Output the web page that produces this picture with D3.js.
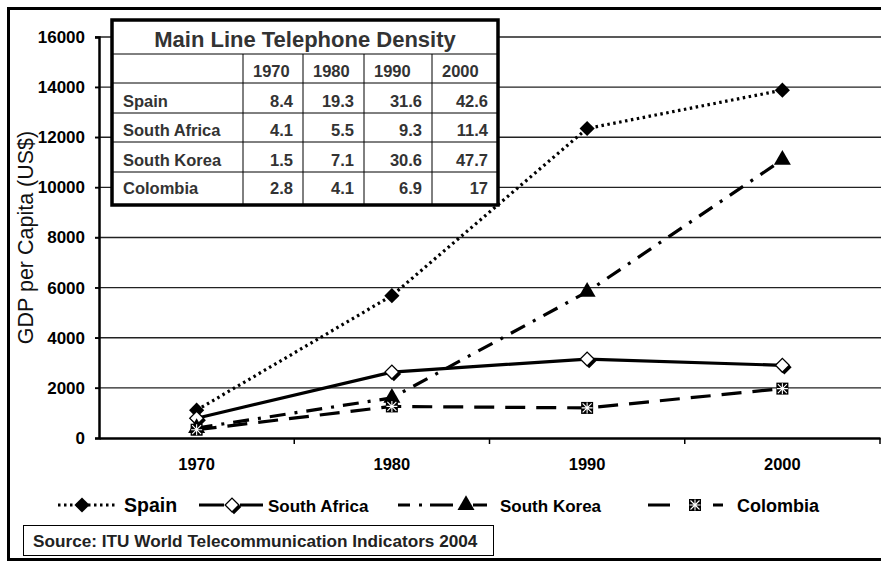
<!DOCTYPE html>
<html>
<head>
<meta charset="utf-8">
<script src="https://cdn.jsdelivr.net/npm/d3@7"></script>
<style>
  body { margin: 0; background: #fff; }
  svg { display: block; font-family: "Liberation Sans", Arial, sans-serif; }
</style>
</head>
<body>
<div id="chart"></div>
<script>
// chart values
var years = ["1970", "1980", "1990", "2000"];
var yTicks = [0, 2000, 4000, 6000, 8000, 10000, 12000, 14000, 16000];
var seriesNames = ["Spain", "South Africa", "South Korea", "Colombia"];
var spainGdp = [1110, 5680, 12350, 13880];
var southAfricaGdp = [790, 2630, 3150, 2900];
var southKoreaGdp = [400, 1600, 5830, 11100];
var colombiaGdp = [330, 1260, 1200, 1970];

// telephone density table
var densityTitle = "Main Line Telephone Density";
var densitySpain = ["8.4", "19.3", "31.6", "42.6"];
var densitySouthAfrica = ["4.1", "5.5", "9.3", "11.4"];
var densitySouthKorea = ["1.5", "7.1", "30.6", "47.7"];
var densityColombia = ["2.8", "4.1", "6.9", "17"];
var sourceText = "Source: ITU World Telecommunication Indicators 2004";

var W = 881, H = 566;
var margin = {top: 37, left: 99, right: 1, bottom: 128};

var svg = d3.select("#chart").append("svg")
  .attr("width", W).attr("height", H);

// outer frame
svg.append("rect")
  .attr("x", 8.5).attr("y", 8.5)
  .attr("width", 880).attr("height", 551)
  .attr("fill", "#fff").attr("stroke", "#000").attr("stroke-width", 3);

var x = d3.scaleBand().domain(years).range([margin.left, W - margin.right]);
var y = d3.scaleLinear().domain([0, 16000]).range([H - margin.bottom, margin.top]);

// gridlines
svg.append("g")
  .selectAll("line").data(yTicks.filter(function(d) { return d > 0; }))
  .join("line")
  .attr("x1", margin.left - 4).attr("x2", W)
  .attr("y1", function(d) { return y(d); }).attr("y2", function(d) { return y(d); })
  .attr("stroke", "#222").attr("stroke-width", 1.4);

// y axis
var yAxis = svg.append("g")
  .attr("transform", "translate(" + margin.left + ",0)")
  .call(d3.axisLeft(y).tickValues(yTicks).tickSize(4).tickPadding(10).tickFormat(d3.format("d")));
yAxis.select(".domain").attr("stroke-width", 2.5);
yAxis.selectAll(".tick line").attr("stroke-width", 1.5);
yAxis.selectAll("text").attr("font-size", 17).attr("font-weight", "bold").attr("fill", "#000")
  .attr("font-family", "Liberation Sans, Arial, sans-serif");

// x axis
var xAxis = svg.append("g")
  .attr("transform", "translate(0," + y(0) + ")")
  .call(d3.axisBottom(x).tickSize(0).tickPadding(20));
xAxis.select(".domain").attr("stroke-width", 2.5);
xAxis.selectAll("text").attr("font-size", 16.5).attr("font-weight", "bold").attr("fill", "#000")
  .attr("font-family", "Liberation Sans, Arial, sans-serif");
xAxis.selectAll(".sep").data(years.slice(1).concat(["end"]))
  .join("line").attr("class", "sep")
  .attr("x1", function(d, i) { return margin.left + (i + 1) * x.bandwidth(); })
  .attr("x2", function(d, i) { return margin.left + (i + 1) * x.bandwidth(); })
  .attr("y1", 0).attr("y2", 6)
  .attr("stroke", "#000").attr("stroke-width", 1.5);

// y axis title
svg.append("text")
  .attr("transform", "translate(33," + ((y(0) + y(16000)) / 2) + ") rotate(-90)")
  .attr("text-anchor", "middle")
  .attr("font-size", 21.5).attr("fill", "#111")
  .text("GDP per Capita (US$)");

// series styles
var series = [
  {name: seriesNames[0], values: spainGdp, dash: "2.5,3.5", marker: "fdiamond"},
  {name: seriesNames[1], values: southAfricaGdp, dash: null, marker: "odiamond"},
  {name: seriesNames[2], values: southKoreaGdp, dash: "16,9,3,9", marker: "triangle"},
  {name: seriesNames[3], values: colombiaGdp, dash: "20,11", marker: "star"}
];

function cx(i) { return x(years[i]) + x.bandwidth() / 2; }

var line = d3.line()
  .x(function(d, i) { return cx(i); })
  .y(function(d) { return y(d); });

function drawMarker(g, type) {
  if (type === "fdiamond") {
    g.append("path").attr("d", d3.symbol().type(d3.symbolSquare).size(115)())
      .attr("transform", "rotate(45)").attr("fill", "#000");
  } else if (type === "odiamond") {
    g.append("path").attr("d", d3.symbol().type(d3.symbolSquare).size(105)())
      .attr("transform", "translate(2,2) rotate(45)").attr("fill", "#000");
    g.append("path").attr("d", d3.symbol().type(d3.symbolSquare).size(95)())
      .attr("transform", "rotate(45)").attr("fill", "#fff")
      .attr("stroke", "#000").attr("stroke-width", 1.3);
  } else if (type === "triangle") {
    g.append("path").attr("d", d3.symbol().type(d3.symbolTriangle).size(125)())
      .attr("fill", "#000");
  } else if (type === "star") {
    g.append("rect").attr("x", -6).attr("y", -6).attr("width", 12).attr("height", 12).attr("fill", "#000");
    g.append("path").attr("d", "M-4.5,-4.5L4.5,4.5M-4.5,4.5L4.5,-4.5M0,-5.5L0,5.5M-5.5,0L5.5,0")
      .attr("stroke", "#fff").attr("stroke-width", 1.1);
  }
}

var plot = svg.append("g");
series.forEach(function(s) {
  plot.append("path")
    .datum(s.values)
    .attr("d", line)
    .attr("fill", "none").attr("stroke", "#000").attr("stroke-width", 3.2)
    .attr("stroke-dasharray", s.dash);
});
series.forEach(function(s) {
  s.values.forEach(function(v, i) {
    var g = plot.append("g").attr("transform", "translate(" + cx(i) + "," + y(v) + ")");
    drawMarker(g, s.marker);
  });
});

// legend
var legendY = 505;
var legendItems = [
  {x1: 58, x2: 115, mx: 82, tx: 124, size: 19.5, dash: "2.5,3.5"},
  {x1: 199, x2: 263, mx: 232, tx: 268, size: 17, dash: null},
  {x1: 398, x2: 487, mx: 466, tx: 500, size: 17, dash: "12,9,3,8,23,20,14,100"},
  {x1: 648, x2: 723, mx: 695, tx: 737, size: 18, dash: "22,43,10,100"}
];
series.forEach(function(s, i) {
  var it = legendItems[i];
  var g = svg.append("g");
  g.append("line")
    .attr("x1", it.x1).attr("x2", it.x2).attr("y1", legendY).attr("y2", legendY)
    .attr("stroke", "#000").attr("stroke-width", 3.2)
    .attr("stroke-dasharray", it.dash);
  var m = g.append("g").attr("transform", "translate(" + it.mx + "," + legendY + ")");
  if (i === 1) m.append("rect").attr("x", -8).attr("y", -8).attr("width", 16).attr("height", 16).attr("fill", "#fff");
  drawMarker(m, s.marker);
  g.append("text")
    .attr("x", it.tx).attr("y", legendY + 6.5)
    .attr("font-size", it.size).attr("font-weight", "bold").attr("fill", "#000")
    .text(s.name);
});

// source box
svg.append("rect")
  .attr("x", 23.5).attr("y", 525.5).attr("width", 470).attr("height", 30)
  .attr("fill", "#fff").attr("stroke", "#000").attr("stroke-width", 1);
svg.append("text")
  .attr("x", 33).attr("y", 547)
  .attr("font-size", 17.2).attr("font-weight", "bold").attr("fill", "#222")
  .text(sourceText);

// density table
var colX = [112, 243, 303, 364, 432, 498];
var rowY = [20, 54, 83, 113, 142, 172, 205];
var tableRows = [
  [seriesNames[0]].concat(densitySpain),
  [seriesNames[1]].concat(densitySouthAfrica),
  [seriesNames[2]].concat(densitySouthKorea),
  [seriesNames[3]].concat(densityColombia)
];
var table = svg.append("g");
table.append("rect")
  .attr("x", colX[0]).attr("y", rowY[0])
  .attr("width", colX[5] - colX[0]).attr("height", rowY[6] - rowY[0])
  .attr("fill", "#fff");
// inner lines
for (var r = 1; r < rowY.length - 1; r++) {
  table.append("line").attr("x1", colX[0]).attr("x2", colX[5])
    .attr("y1", rowY[r]).attr("y2", rowY[r]).attr("stroke", "#000").attr("stroke-width", 1);
}
for (var c = 1; c < colX.length - 1; c++) {
  table.append("line").attr("x1", colX[c]).attr("x2", colX[c])
    .attr("y1", rowY[1]).attr("y2", rowY[6]).attr("stroke", "#000").attr("stroke-width", 1);
}
table.append("rect")
  .attr("x", colX[0]).attr("y", rowY[0])
  .attr("width", colX[5] - colX[0]).attr("height", rowY[6] - rowY[0])
  .attr("fill", "none").attr("stroke", "#000").attr("stroke-width", 3.5);

table.append("text")
  .attr("x", (colX[0] + colX[5]) / 2).attr("y", 47)
  .attr("text-anchor", "middle").attr("font-size", 22).attr("font-weight", "bold")
  .attr("fill", "#333").text(densityTitle);
years.forEach(function(yr, i) {
  table.append("text")
    .attr("x", colX[i + 1] + 10).attr("y", 77)
    .attr("font-size", 16.5).attr("font-weight", "bold").attr("fill", "#333").text(yr);
});
var rowBase = [107, 136, 166, 194];
tableRows.forEach(function(row, ri) {
  var ty = rowBase[ri];
  table.append("text")
    .attr("x", colX[0] + 11).attr("y", ty)
    .attr("font-size", 16.5).attr("font-weight", "bold").attr("fill", "#333").text(row[0]);
  row.slice(1).forEach(function(v, ci) {
    table.append("text")
      .attr("x", colX[ci + 2] - 10).attr("y", ty).attr("text-anchor", "end")
      .attr("font-size", 16.5).attr("font-weight", "bold").attr("fill", "#333").text(v);
  });
});
</script>
</body>
</html>
